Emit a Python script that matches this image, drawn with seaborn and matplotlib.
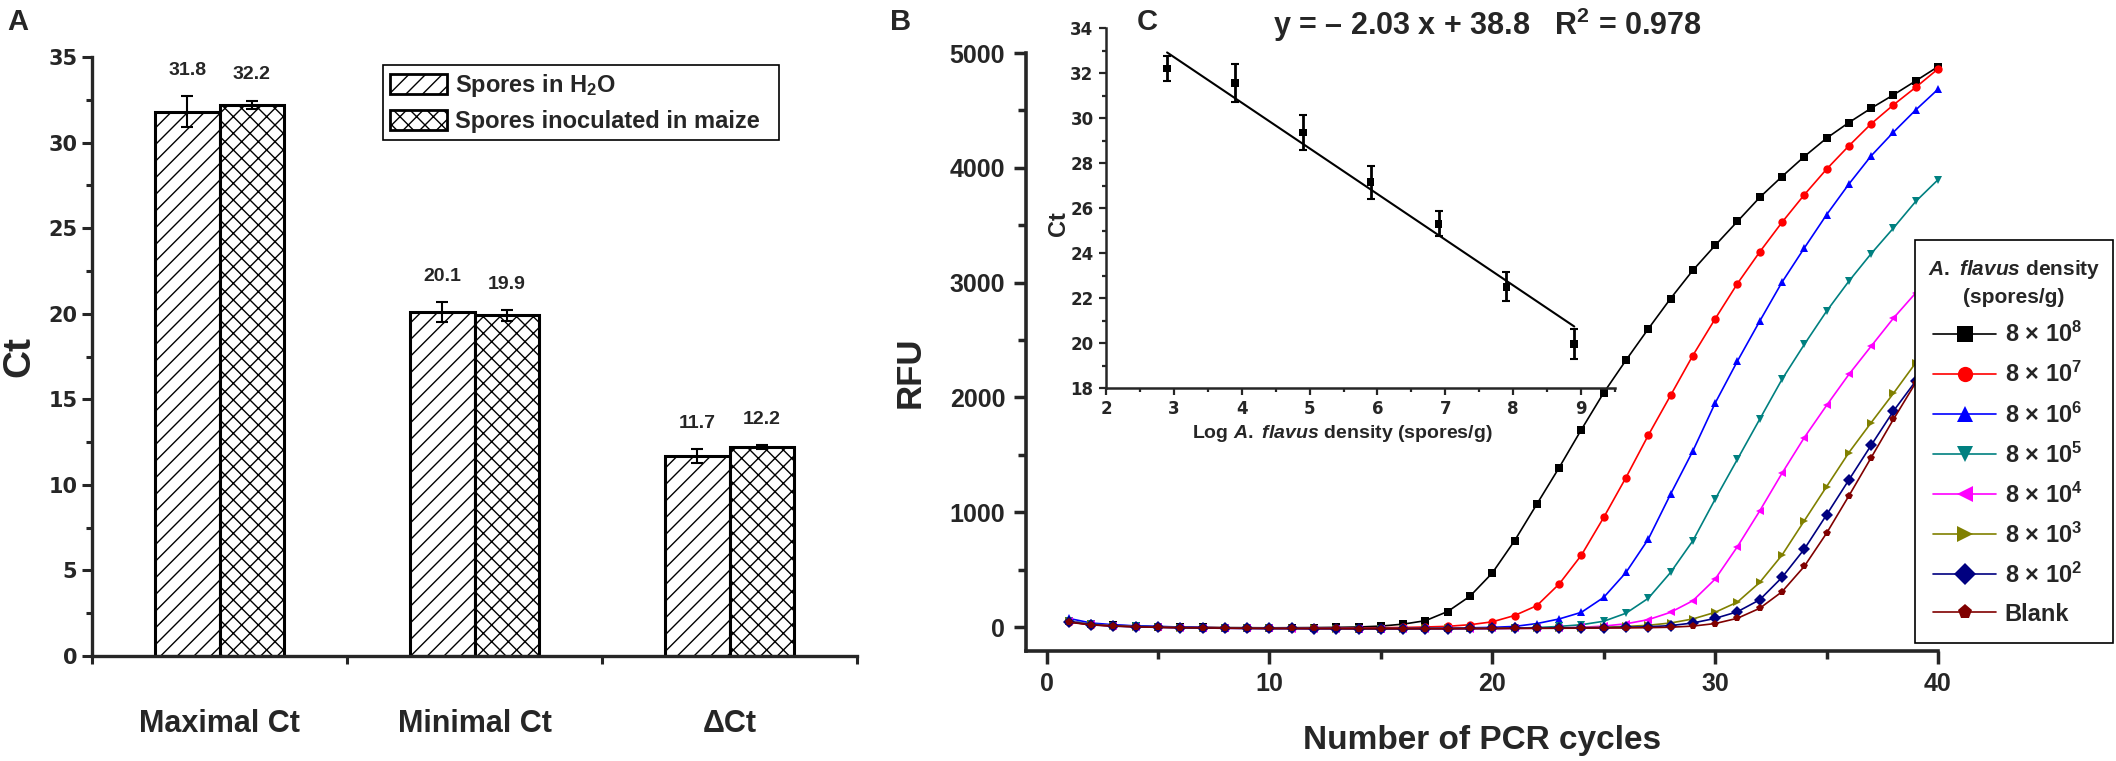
import matplotlib
matplotlib.use("Agg")
import matplotlib.pyplot as plt
from matplotlib.lines import Line2D
from matplotlib.patches import Patch
from matplotlib.ticker import MultipleLocator, FixedLocator
import pandas as pd
import seaborn as sns

# --- Panel A: Ct values of the two sample types ---
categories = ["Maximal Ct", "Minimal Ct", "ΔCt"]
samples = ["Spores in H$_{\\mathbf{2}}$O", "Spores inoculated in maize"]
h2o_ct = [31.8, 20.1, 11.7]
h2o_err = [0.9, 0.6, 0.4]
maize_ct = [32.2, 19.9, 12.2]
maize_err = [0.25, 0.3, 0.12]

# --- Panel B: amplification curves ---
cycles = list(range(1, 41))
densities = ["8e8", "8e7", "8e6", "8e5", "8e4", "8e3", "8e2", "Blank"]
density_labels = ["8 × 10$^{\\mathbf{8}}$", "8 × 10$^{\\mathbf{7}}$", "8 × 10$^{\\mathbf{6}}$",
                  "8 × 10$^{\\mathbf{5}}$", "8 × 10$^{\\mathbf{4}}$", "8 × 10$^{\\mathbf{3}}$",
                  "8 × 10$^{\\mathbf{2}}$", "Blank"]
rfu_8e8 = [50, 25, 15, 8, 3, 0, -3, -5, -6, -7,
           -6, -5, -3, 0, 8, 25, 55, 135, 268, 470,
           751, 1070, 1388, 1720, 2040, 2324, 2597, 2861, 3107, 3324,
           3533, 3742, 3924, 4098, 4258, 4394, 4519, 4635, 4757, 4881]
rfu_8e7 = [45, 20, 10, 5, 0, -3, -5, -7, -8, -8,
           -9, -9, -8, -8, -6, -4, 0, 6, 20, 45,
           100, 186, 374, 626, 954, 1302, 1670, 2017, 2365, 2684,
           2991, 3267, 3525, 3765, 3988, 4191, 4383, 4548, 4701, 4861]
rfu_8e6 = [75, 35, 20, 10, 5, 0, -5, -8, -10, -12,
           -12, -13, -13, -14, -14, -13, -12, -10, -7, -3,
           5, 30, 70, 128, 258, 475, 765, 1157, 1533, 1950,
           2316, 2664, 3003, 3301, 3591, 3858, 4104, 4310, 4504, 4684]
rfu_8e5 = [55, 25, 12, 5, 0, -5, -8, -10, -12, -13,
           -14, -15, -16, -16, -17, -17, -16, -15, -14, -12,
           -10, -5, 5, 20, 50, 120, 250, 475, 751, 1113,
           1461, 1810, 2157, 2461, 2751, 3012, 3252, 3475, 3707, 3896]
rfu_8e4 = [50, 22, 10, 3, -2, -6, -9, -11, -12, -13,
           -14, -15, -15, -16, -16, -16, -15, -15, -14, -13,
           -12, -10, -8, -3, 8, 28, 64, 128, 229, 417,
           700, 1011, 1339, 1650, 1930, 2200, 2446, 2690, 2910, 3120]
rfu_8e3 = [48, 22, 10, 3, -2, -5, -8, -10, -11, -12,
           -13, -13, -14, -14, -14, -14, -13, -13, -12, -11,
           -10, -9, -7, -5, -2, 5, 15, 35, 70, 128,
           217, 388, 626, 925, 1223, 1519, 1780, 2035, 2301, 2550]
rfu_8e2 = [45, 20, 8, 2, -3, -6, -9, -11, -12, -13,
           -13, -14, -14, -15, -15, -15, -14, -14, -13, -12,
           -11, -10, -9, -8, -6, -3, 2, 12, 35, 75,
           133, 237, 432, 678, 977, 1281, 1583, 1881, 2142, 2400]
rfu_blank = [42, 18, 8, 2, -3, -6, -8, -10, -11, -12,
             -12, -13, -13, -14, -14, -14, -14, -14, -13, -13,
             -12, -12, -11, -10, -9, -8, -6, -2, 8, 30,
             76, 163, 307, 528, 817, 1142, 1475, 1809, 2128, 2430]
rfu_series = [rfu_8e8, rfu_8e7, rfu_8e6, rfu_8e5, rfu_8e4, rfu_8e3, rfu_8e2, rfu_blank]
curve_colors = ["black", "red", "blue", "#008080", "#FF00FF", "#808000", "#000080", "#800000"]
curve_markers = ["s", "o", "^", "v", "<", ">", "D", "p"]

# --- Panel C: standard curve ---
log_density = [2.9, 3.9, 4.9, 5.9, 6.9, 7.9, 8.9]
ct_mean = [32.2, 31.55, 29.35, 27.15, 25.3, 22.5, 19.95]
ct_err = [0.55, 0.85, 0.77, 0.73, 0.55, 0.64, 0.66]
slope, intercept = -2.03, 38.8

# --- Style ---
sns.set_style("ticks")
plt.rcParams["font.family"] = ["Liberation Sans", "DejaVu Sans"]
plt.rcParams["font.weight"] = "bold"
plt.rcParams["mathtext.fontset"] = "custom"
plt.rcParams["mathtext.rm"] = "Liberation Sans:bold"
plt.rcParams["mathtext.bf"] = "Liberation Sans:bold"
plt.rcParams["mathtext.it"] = "Liberation Sans:italic:bold"
plt.rcParams["hatch.linewidth"] = 1.0
narrow = ["Liberation Sans Narrow", "Liberation Sans"]

W, H = 2116, 761
fig = plt.figure(figsize=(W / 100, H / 100), dpi=100, facecolor="white")


def px_axes(left, top, right, bottom):
    return fig.add_axes([left / W, 1 - bottom / H, (right - left) / W, (bottom - top) / H])


axA = px_axes(92, 57, 857, 656)
axB = px_axes(1026, 53, 1938, 651)
axC = px_axes(1106, 28, 1615, 388)

# -------------------------------------------------
# A: grouped hatched bars
# -------------------------------------------------
dfA = pd.DataFrame({
    "category": categories * 2,
    "sample": [samples[0]] * 3 + [samples[1]] * 3,
    "Ct": h2o_ct + maize_ct,
})
sns.barplot(data=dfA, x="category", y="Ct", hue="sample", order=categories, hue_order=samples,
            palette=["white", "white"], saturation=1, edgecolor="black", linewidth=2.2,
            width=0.504, gap=0, errorbar=None, legend=False, ax=axA)

for cont, hatch, vals, errs in zip(axA.containers, ["//", "xx"], [h2o_ct, maize_ct], [h2o_err, maize_err]):
    xs = []
    for bar in cont:
        bar.set_hatch(hatch)
        xs.append(bar.get_x() + bar.get_width() / 2)
    axA.errorbar(xs, vals, yerr=errs, fmt="none", ecolor="black", elinewidth=1.5, capsize=4, capthick=1.5)
    for x, v, e in zip(xs, vals, errs):
        axA.text(x, v + e + 1.5, f"{v:.1f}", ha="center", va="center", fontsize=14,
                 fontweight="bold", family=narrow)

axA.set_xlim(-0.5, 2.5)
axA.set_ylim(0, 35)
sns.despine(ax=axA)
for s in ["left", "bottom"]:
    axA.spines[s].set_linewidth(2.4)
axA.yaxis.set_major_locator(MultipleLocator(5))
axA.yaxis.set_minor_locator(MultipleLocator(2.5))
axA.tick_params(axis="y", which="major", direction="out", length=7, width=2.2, pad=3.5,
                labelsize=15, labelfontfamily="Liberation Sans Narrow")
axA.tick_params(axis="y", which="minor", direction="out", length=4, width=2.2)
axA.set_xticks([0, 1, 2])
axA.set_xticklabels(categories)
axA.xaxis.set_minor_locator(FixedLocator([-0.5, 0.5, 1.5, 2.5]))
axA.tick_params(axis="x", which="major", length=0, pad=38, labelsize=22)
axA.tick_params(axis="x", which="minor", direction="out", length=6, width=2.2)
axA.set_xlabel("")
axA.set_ylabel("Ct", fontsize=28, fontweight="bold")
axA.yaxis.label.set_va("center")
axA.yaxis.set_label_coords(-0.0954, 0.5)

legA = axA.legend(
    [Patch(facecolor="white", edgecolor="black", hatch="//", linewidth=2),
     Patch(facecolor="white", edgecolor="black", hatch="xx", linewidth=2)],
    samples, loc="upper left", mode="expand",
    bbox_to_anchor=(383 / W, 1 - 139 / H, 396 / W, 74 / H), bbox_transform=fig.transFigure,
    borderaxespad=0, fancybox=False, edgecolor="black", framealpha=1,
    prop={"size": 17, "weight": "bold"}, handlelength=2.4, handleheight=0.95,
    handletextpad=0.35, borderpad=0.3, labelspacing=0.45)
legA.get_frame().set_linewidth(1.2)

# -------------------------------------------------
# B: amplification curves
# -------------------------------------------------
dfB = pd.DataFrame({
    "cycle": cycles * len(densities),
    "RFU": [v for series in rfu_series for v in series],
    "density": [d for d in densities for _ in cycles],
})
sns.lineplot(data=dfB, x="cycle", y="RFU", hue="density", style="density",
             hue_order=densities, style_order=densities, palette=curve_colors,
             markers=curve_markers, dashes=False, markersize=6, markeredgewidth=0,
             linewidth=1.2, errorbar=None, legend=False, ax=axB, clip_on=False)

axB.set_xlim(-0.92, 40)
axB.set_ylim(-209, 5000)
sns.despine(ax=axB)
for s in ["left", "bottom"]:
    axB.spines[s].set_linewidth(2.6)
axB.xaxis.set_major_locator(MultipleLocator(10))
axB.xaxis.set_minor_locator(MultipleLocator(5))
axB.yaxis.set_major_locator(MultipleLocator(1000))
axB.yaxis.set_minor_locator(MultipleLocator(500))
axB.tick_params(which="major", direction="out", length=9, width=2.5, pad=6, labelsize=18)
axB.tick_params(which="minor", direction="out", length=5.5, width=2.5)
axB.set_xlabel("Number of PCR cycles", fontsize=24, fontweight="bold")
axB.xaxis.label.set_va("center")
axB.xaxis.set_label_coords(0.5, -0.1495)
axB.set_ylabel("RFU", fontsize=25, fontweight="bold")
axB.yaxis.label.set_va("center")
axB.yaxis.set_label_coords(-0.127, 0.4665)

handles = [Line2D([], [], color=c, marker=m, markersize=11, linewidth=1.2, markeredgewidth=0)
           for c, m in zip(curve_colors, curve_markers)]
legB = axB.legend(
    handles, density_labels, title="$\\mathit{A.\\ flavus}$ density\n(spores/g)",
    loc="upper left", mode="expand",
    bbox_to_anchor=(1915 / W, 1 - 647 / H, 198 / W, 407 / H), bbox_transform=fig.transFigure,
    borderaxespad=0, fancybox=False, edgecolor="black", framealpha=1,
    prop={"size": 17, "weight": "bold"}, title_fontproperties={"size": 15, "weight": "bold"},
    handlelength=2.7, handletextpad=0.35, labelspacing=0.63, borderpad=0.75)
legB.get_title().set_multialignment("center")
legB.get_title().set_linespacing(1.5)
legB.get_frame().set_linewidth(1.2)

# -------------------------------------------------
# C: inset standard curve
# -------------------------------------------------
axC.set_facecolor("none")
axC.errorbar(log_density, ct_mean, yerr=ct_err, fmt="none", ecolor="black",
             elinewidth=2, capsize=3, capthick=1.5)
sns.scatterplot(x=log_density, y=ct_mean, marker="s", s=30, color="black",
                edgecolor="none", ax=axC, zorder=3)
x_fit = [log_density[0], log_density[-1]]
y_fit = [slope * x + intercept for x in x_fit]
sns.lineplot(x=x_fit, y=y_fit, color="black", linewidth=1.5, ax=axC)

axC.set_xlim(2, 9.5)
axC.set_ylim(18, 34)
sns.despine(ax=axC)
for s in ["left", "bottom"]:
    axC.spines[s].set_linewidth(1.8)
axC.xaxis.set_major_locator(MultipleLocator(1))
axC.xaxis.set_minor_locator(MultipleLocator(0.5))
axC.yaxis.set_major_locator(MultipleLocator(2))
axC.yaxis.set_minor_locator(MultipleLocator(1))
axC.tick_params(which="major", direction="out", length=5, width=1.6, pad=4,
                labelsize=12, labelfontfamily="Liberation Sans Narrow")
axC.tick_params(which="minor", direction="out", length=3, width=1.6)
axC.set_xlabel("Log $\\mathit{A.\\ flavus}$ density (spores/g)", fontsize=14, fontweight="bold")
axC.xaxis.label.set_va("center")
axC.xaxis.set_label_coords(0.4637, -0.127)
axC.set_ylabel("Ct", fontsize=17, fontweight="bold")
axC.yaxis.label.set_va("center")
axC.yaxis.set_label_coords(-0.094, 0.456)

# --- panel letters and fit equation ---
fig.text(7 / W, 1 - 30 / H, "A", fontsize=21, fontweight="bold", va="baseline")
fig.text(890 / W, 1 - 30 / H, "B", fontsize=21, fontweight="bold", va="baseline")
fig.text(1137 / W, 1 - 30 / H, "C", fontsize=21, fontweight="bold", va="baseline")
fig.text(1273 / W, 1 - 35 / H, "y = – 2.03 x + 38.8   R$^{\\mathbf{2}}$ = 0.978",
         fontsize=22, fontweight="bold", va="baseline")

fig.savefig("out.png", dpi=100, facecolor="white")
